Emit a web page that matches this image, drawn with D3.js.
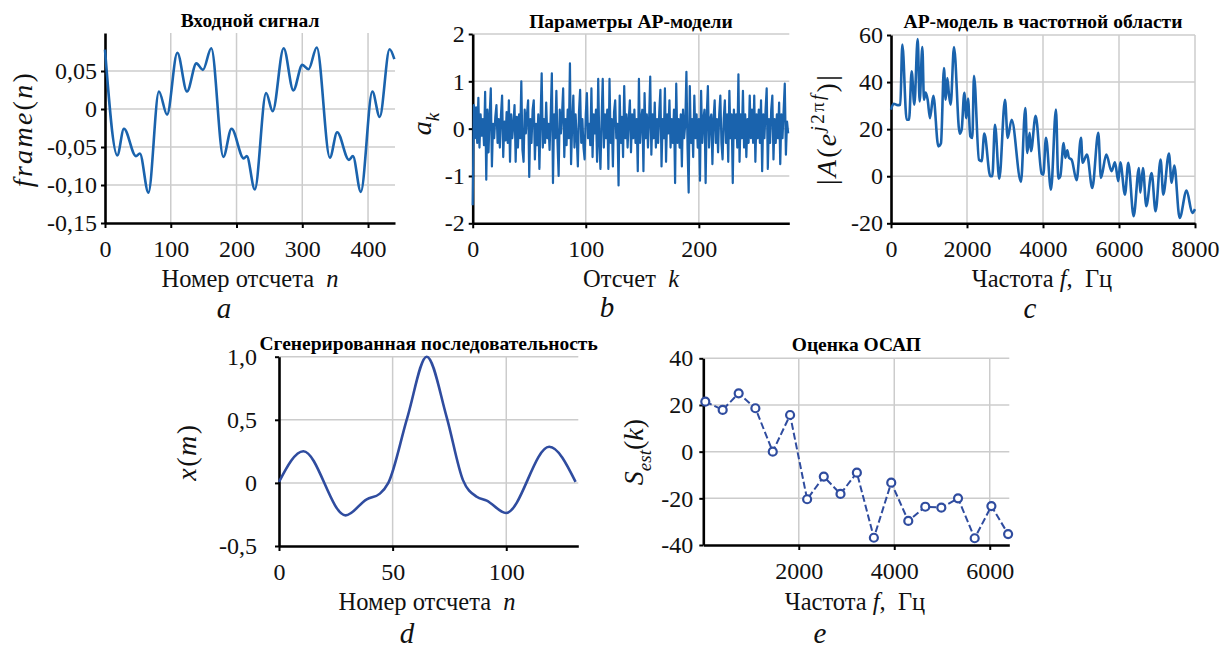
<!DOCTYPE html>
<html>
<head>
<meta charset="UTF-8">
<script src="https://cdn.jsdelivr.net/npm/d3@7/dist/d3.min.js"></script>
<style>
  body { margin: 0; background: #fff; }
  .grid line { stroke: #cccccc; stroke-width: 1.5; }
</style>
</head>
<body>
<svg width="1224" height="650"></svg>
<script>
// ---- a: входной сигнал (экстремумы)
const signalN = [0, 18.7, 28.8, 47, 53, 66, 82, 94.4, 110, 124.7, 139, 149, 161.6, 180, 192.4, 211, 215.6, 227.8,
  245, 255, 271.7, 286.4, 300, 309.6, 322, 342, 353, 371, 377, 389, 406.6, 417.7, 432.8, 440];
const signalV = [0.078, -0.061, -0.026, -0.062, -0.0585, -0.110, 0.023, -0.0074, 0.074, 0.023, 0.060, 0.0515, 0.080,
  -0.063, -0.026, -0.065, -0.062, -0.1057, 0.021, -0.003, 0.080, 0.0245, 0.058, 0.0524, 0.081, -0.064, -0.0306,
  -0.067, -0.062, -0.109, 0.023, -0.0105, 0.0786, 0.0655];
const signalYTicks = [0.05, 0, -0.05, -0.10, -0.15];
const signalYLabels = ['0,05', '0', '-0,05', '-0,10', '-0,15'];
const signalXTicks = [0, 100, 200, 300, 400];

// ---- b: параметры АР-модели a_k, k = 0..279
const arCoefs = [
  -1.62, 0.5, -0.2, 0.45, -0.3, 0.65, -0.4, 0.3, -0.15, 0.2, -0.35, 0.78, -1.08, 0.4, -0.5, 0.3, 0.85, -0.8, 0.1, -0.2,
  0.25, 0.5, -0.3, 0.2, -0.4, 0.3, 0.7, -0.6, 0.15, -0.25, 0.35, -0.3, 0.6, -0.7, 0.3, -0.2, 0.1, 0.5, -0.7, 0.25,
  -0.4, 0.3, -0.2, 1.0, -0.45, -0.7, 0.4, -0.1, 0.3, 0.6, -1.02, 0.2, -0.3, 0.4, 0.6, -0.65, 0.1, -0.35, 0.3, -0.85,
  0.2, 1.17, -0.4, 0.2, -0.3, 0.55, -0.2, 0.1, -0.45, 0.3, 1.17, -1.15, 0.3, -0.2, 0.8, -0.3, -1.0, 0.4, -0.1, 0.3,
  0.85, -0.6, 0.2, -0.35, 0.4, -0.2, 1.38, -0.75, 0.1, 0.7, -0.4, 0.3, -0.2, -0.8, 0.35, 0.82, -0.3, 0.2, -0.4, -0.65,
  0.3, 0.75, -0.2, 0.1, -0.35, 0.85, -0.6, 0.3, -0.1, 0.4, -0.7, 1.05, -0.3, -0.85, 0.2, 1.05, -0.4, 0.3, -0.2, 0.4,
  -0.85, 1.05, -0.3, 0.2, -0.8, 0.35, 0.6, -0.2, 0.1, -1.2, 0.7, -0.3, 0.25, -0.6, 0.9, -0.2, 0.3, -0.4, 0.2, 0.6,
  -0.5, 0.3, -0.2, 0.4, -0.3, 0.2, -0.9, 1.05, -0.3, 0.2, 0.4, -0.9, 0.75, -0.2, 0.3, -0.4, 0.2, 1.1, -0.55, 0.3,
  -0.2, 0.55, -0.4, 0.2, -0.3, 0.35, 0.82, -0.8, 0.2, -0.2, 0.85, -0.7, 0.3, -0.1, 0.6, -0.4, 0.2, -0.3, 0.4, -1.15,
  0.95, -0.3, 0.2, -0.4, 0.3, -0.8, 0.4, -0.2, 0.1, 1.2, -0.4, -1.35, 0.9, -0.3, 0.2, -0.6, 0.7, -0.2, 0.3, -0.4,
  0.2, -1.1, 0.8, -0.3, 0.2, 0.4, -1.15, 0.3, 0.9, -0.4, 0.2, 0.3, -0.75, 0.2, 0.6, -0.3, 0.2, -0.5, 0.3, 0.7,
  -0.3, -0.65, 0.2, 0.6, -0.3, 0.3, -0.7, 0.8, -0.2, 0.3, -1.15, 0.4, -0.2, 0.3, -0.4, 1.15, -0.7, 0.3, -0.2, 0.8,
  -0.4, 0.3, -0.6, 0.2, -0.3, 0.7, -0.2, 0.4, -0.3, 0.7, -0.7, 0.3, -0.2, 0.4, -0.3, 0.6, -0.9, 0.3, -0.2, 0.4,
  0.85, -0.85, 0.2, -0.3, 0.4, 0.7, -0.65, 0.2, -0.3, 0.3, -0.2, 0.55, -0.75, 0.3, -0.2, 0.4, 0.95, -0.55, 0.15, -0.1
];
const arYTicks = [2, 1, 0, -1, -2];
const arXTicks = [0, 100, 200];

// ---- c: АР-модель в частотной области
const specF = [0, 70, 175, 245, 298, 412, 475, 544, 614, 702, 754, 824, 868, 912, 965, 1026, 1114, 1245, 1315, 1394,
  1438, 1482, 1526, 1570, 1658, 1807, 1859, 1929, 1982, 2026, 2087, 2140, 2184, 2315, 2386, 2456, 2613, 2666, 2736,
  2850, 3000, 3070, 3175, 3420, 3534, 3587, 3648, 3684, 3806, 3964, 4008, 4078, 4210, 4341, 4403, 4456, 4543, 4587,
  4640, 4683, 4754, 4885, 5000, 5043, 5157, 5297, 5455, 5525, 5665, 5806, 5894, 5982, 6034, 6157, 6244, 6385, 6525,
  6560, 6630, 6718, 6858, 6963, 7095, 7165, 7314, 7385, 7455, 7595, 7779, 7928, 8000];
const specV = [28.3, 30.8, 30.2, 30.4, 55.9, 24, 24, 44.6, 30.4, 58.3, 31.8, 54.9, 32.5, 35.6, 32.5, 24.7, 34.2, 12.7,
  14, 46, 32.5, 41.7, 34.6, 30.4, 54.9, 18.1, 19.8, 35.4, 24.7, 33, 17, 16.3, 42.7, 7, 6.4, 18.1, 0, 0, 21.9,
  -1.1, 32.5, 16.3, 24, -2.4, 29, 9.9, 18.4, 10.6, 25.7, 1.1, 0.7, 16.3, -5.7, 28.3, -1.1, 0, 14.1, 7.8,
  11, 7.8, 7, -1.7, 16.3, 5.7, 9.2, -5, 18.4, -0.7, 9.2, 2.1, 5.9, -2.1, 5.9, -7.8, 5.7, -17, 3.5,
  -7, 3.5, -12.7, 1.4, -14.9, 7.1, -7.8, 9.6, -2.8, 4.5, -17.7, -6.1, -15.6, -14];
const specYTicks = [60, 40, 20, 0, -20];
const specXTicks = [0, 2000, 4000, 6000, 8000];

// ---- d: сгенерированная последовательность
const genN = [0, 10.7, 29.3, 38.6, 44.4, 48.1, 56.5, 65, 73.8, 81, 87, 91.4, 99.9, 118.9, 130.5];
const genV = [0.008, 0.251, -0.257, -0.13, -0.085, 0, 0.52, 1.0, 0.52, 0.02, -0.11, -0.14, -0.238, 0.286, 0.008];
const genYTicks = [1, 0.5, 0, -0.5];
const genYLabels = ['1,0', '0,5', '0', '-0,5'];
const genXTicks = [0, 50, 100];

// ---- e: оценка ОСАП
const psdF = [42, 406, 741, 1091, 1455, 1818, 2175, 2524, 2874, 3217, 3573, 3937, 4294, 4650, 4986, 5336, 5685, 6035, 6385];
const psdV = [21.4, 17.9, 25, 18.6, 0, 15.7, -20.4, -10.7, -18.1, -9, -36.9, -13.3, -29.7, -23.6, -24, -20, -37.1, -23.3, -35.3];
const psdYTicks = [40, 20, 0, -20, -40];
const psdXTicks = [2000, 4000, 6000];

const blue = '#1a63ad';
const blueDark = '#2f4c9f';
const serif = 'Liberation Serif';
const svg = d3.select('svg');

function rich(sel, parts, size) {
  let shift = 0;
  parts.forEach(p => {
    const s = p.sub ? size * 0.28 : p.sup ? -size * 0.42 : 0;
    const ts = sel.append('tspan').text(p.t)
      .attr('font-style', p.it ? 'italic' : 'normal')
      .attr('font-size', (p.sub || p.sup) ? size * 0.68 : size);
    if (s !== shift) { ts.attr('dy', s - shift); shift = s; }
  });
}

function panel(p) {
  const [l, r, t, b] = p.box;
  const x = d3.scaleLinear().domain(p.xDomain).range([l, r]);
  const y = d3.scaleLinear().domain(p.yDomain).range([b, t]);
  const g = svg.append('g');

  const grid = g.append('g').attr('class', 'grid');
  grid.selectAll('line.v').data(p.xGrid).join('line').attr('class', 'v')
    .attr('x1', d => x(d)).attr('x2', d => x(d)).attr('y1', t).attr('y2', b);
  grid.selectAll('line.h').data(p.yGrid).join('line').attr('class', 'h')
    .attr('x1', l).attr('x2', r).attr('y1', d => y(d)).attr('y2', d => y(d));

  const xAxis = d3.axisBottom(x).tickValues(p.xTicks)
    .tickFormat((d, i) => p.xLabels ? p.xLabels[i] : d)
    .tickSize(5).tickSizeOuter(0).tickPadding(12);
  const yAxis = d3.axisLeft(y).tickValues(p.yTicks)
    .tickFormat((d, i) => p.yLabels ? p.yLabels[i] : d)
    .tickSize(4).tickSizeOuter(0).tickPadding(p.yPad || 4);

  const ax = g.append('g').attr('transform', `translate(0,${b})`).call(xAxis);
  const ay = g.append('g').attr('transform', `translate(${l},0)`).call(yAxis);
  [ax, ay].forEach(a => {
    a.attr('font-family', serif).attr('font-size', 24);
    a.select('.domain').attr('stroke-width', 2.6);
    a.selectAll('.tick line').attr('stroke-width', 2);
    a.selectAll('.tick text').attr('fill', '#111');
  });

  g.append('text').attr('x', (l + r) / 2).attr('y', p.titleY)
    .attr('text-anchor', 'middle').attr('font-family', serif).attr('font-weight', 'bold').attr('font-size', 19.5)
    .text(p.title);

  const xl = g.append('text').attr('x', p.xLabelPos[0]).attr('y', p.xLabelPos[1])
    .attr('text-anchor', 'middle').attr('font-family', serif).attr('fill', '#111')
    .style('white-space', 'pre');
  rich(xl, p.xLabel, 24.5);

  const yl = g.append('text').attr('text-anchor', 'middle').attr('font-family', serif).attr('fill', '#111')
    .attr('letter-spacing', p.yLabelSpacing || 0)
    .attr('transform', `translate(${p.yLabelPos[0]},${p.yLabelPos[1]}) rotate(-90)`);
  rich(yl, p.yLabel, 28);

  g.append('text').attr('x', p.letterPos[0]).attr('y', p.letterPos[1])
    .attr('text-anchor', 'middle').attr('font-family', serif).attr('font-style', 'italic').attr('font-size', 29)
    .attr('fill', '#111').text(p.letter);

  return { g, x, y };
}

// a
const pa = panel({
  box: [105, 395, 33, 223], xDomain: [0, 441], yDomain: [-0.15, 0.1],
  xTicks: signalXTicks, yTicks: signalYTicks, yLabels: signalYLabels,
  xGrid: [100, 200, 300, 400], yGrid: [0.05, 0, -0.05, -0.10],
  title: 'Входной сигнал', titleY: 27,
  xLabel: [{ t: 'Номер отсчета  ' }, { t: 'n', it: true }], xLabelPos: [250, 287],
  yLabel: [{ t: 'frame', it: true }, { t: '(' }, { t: 'n', it: true }, { t: ')' }], yLabelPos: [32, 129],
  yLabelSpacing: 2.3,
  letter: 'a', letterPos: [224, 318]
});
pa.g.append('path')
  .attr('d', d3.line().x(i => pa.x(signalN[i])).y(i => pa.y(signalV[i])).curve(d3.curveMonotoneX)(d3.range(signalN.length)))
  .attr('fill', 'none').attr('stroke', blue).attr('stroke-width', 2.6);

// b
const pb = panel({
  box: [472.7, 789.3, 34, 223.3], xDomain: [0, 280], yDomain: [-2, 2],
  xTicks: arXTicks, yTicks: arYTicks,
  xGrid: [100, 200], yGrid: [2, 1, 0, -1],
  title: 'Параметры АР-модели', titleY: 28,
  xLabel: [{ t: 'Отсчет  ' }, { t: 'k', it: true }], xLabelPos: [631, 287],
  yLabel: [{ t: 'a', it: true }, { t: 'k', it: true, sub: true }], yLabelPos: [431, 124],
  letter: 'b', letterPos: [607, 317]
});
pb.g.append('path')
  .attr('d', d3.line().x((d, i) => pb.x(i)).y(d => pb.y(d))(arCoefs))
  .attr('fill', 'none').attr('stroke', blue).attr('stroke-width', 2.2).attr('stroke-linejoin', 'round');

// c
const pc = panel({
  box: [891, 1195, 35, 223.3], xDomain: [0, 8000], yDomain: [-20, 60],
  xTicks: specXTicks, yTicks: specYTicks,
  xGrid: [2000, 4000, 6000, 8000], yGrid: [60, 40, 20, 0],
  title: 'АР-модель в частотной области', titleY: 28,
  xLabel: [{ t: 'Частота ' }, { t: 'f', it: true }, { t: ',  Гц' }], xLabelPos: [1042, 287],
  yLabel: [{ t: '|' }, { t: 'A', it: true }, { t: '(' }, { t: 'e', it: true }, { t: 'j', it: true, sup: true },
    { t: '2π', sup: true }, { t: 'f', it: true, sup: true }, { t: ')|' }], yLabelPos: [836, 129],
  yLabelSpacing: 2.3,
  letter: 'c', letterPos: [1030, 318]
});
pc.g.append('path')
  .attr('d', d3.line().x(i => pc.x(specF[i])).y(i => pc.y(specV[i])).curve(d3.curveMonotoneX)(d3.range(specF.length)))
  .attr('fill', 'none').attr('stroke', blue).attr('stroke-width', 2.6);

// d
const pd = panel({
  box: [279, 578.3, 356.7, 546], xDomain: [0, 131.7], yDomain: [-0.5, 1],
  xTicks: genXTicks, yTicks: genYTicks, yLabels: genYLabels, yPad: 18,
  xGrid: [50, 100], yGrid: [1, 0.5, 0],
  title: 'Сгенерированная последовательность', titleY: 350,
  xLabel: [{ t: 'Номер отсчета  ' }, { t: 'n', it: true }], xLabelPos: [427, 610],
  yLabel: [{ t: 'x', it: true }, { t: '(' }, { t: 'm', it: true }, { t: ')' }], yLabelPos: [196, 452],
  yLabelSpacing: 1.5,
  letter: 'd', letterPos: [407, 643]
});
pd.g.append('path')
  .attr('d', d3.line().x(i => pd.x(genN[i])).y(i => pd.y(genV[i])).curve(d3.curveMonotoneX)(d3.range(genN.length)))
  .attr('fill', 'none').attr('stroke', blueDark).attr('stroke-width', 2.6);

// e
const pe = panel({
  box: [703.3, 1009.3, 358.3, 545], xDomain: [0, 6410], yDomain: [-40, 40],
  xTicks: psdXTicks, yTicks: psdYTicks, yPad: 6,
  xGrid: [2000, 4000, 6000], yGrid: [40, 20, 0, -20],
  title: 'Оценка ОСАП', titleY: 351,
  xLabel: [{ t: 'Частота ' }, { t: 'f', it: true }, { t: ',  Гц' }], xLabelPos: [855, 610],
  yLabel: [{ t: 'S', it: true }, { t: 'est', it: true, sub: true }, { t: '(' }, { t: 'k', it: true }, { t: ')' }],
  yLabelPos: [643, 452],
  letter: 'e', letterPos: [820, 643]
});
pe.g.append('path')
  .attr('d', d3.line().x(i => pe.x(psdF[i])).y(i => pe.y(psdV[i]))(d3.range(psdF.length)))
  .attr('fill', 'none').attr('stroke', blueDark).attr('stroke-width', 2).attr('stroke-dasharray', '7,3');
pe.g.selectAll('circle').data(d3.range(psdF.length)).join('circle')
  .attr('cx', i => pe.x(psdF[i])).attr('cy', i => pe.y(psdV[i])).attr('r', 4)
  .attr('fill', '#fff').attr('stroke', blueDark).attr('stroke-width', 2.2);
</script>
</body>
</html>
